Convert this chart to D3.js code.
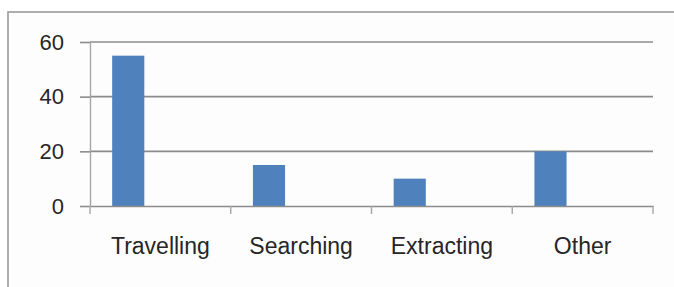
<!DOCTYPE html>
<html>
<head>
<meta charset="utf-8">
<script src="https://cdn.jsdelivr.net/npm/d3@7"></script>
<style>
	html, body { margin: 0; padding: 0; background: #fff; }
	svg { display: block; }
	text { font-family: "Liberation Sans", Arial, sans-serif; fill: #262626; }
</style>
</head>
<body>
<script>
// chart data
const categories = ['Travelling', 'Searching', 'Extracting', 'Other'];
const values = [55, 15, 10, 20];
const yTicks = [0, 20, 40, 60];

const width = 674, height = 287;
const margin = { top: 42, right: 21, bottom: 81, left: 90 };
const gridColor = '#8c8c8c';
const barColor = '#4f81bd';

const svg = d3.select('body').append('svg')
	.attr('width', width)
	.attr('height', height);

// chart area frame (right / bottom run off the picture)
svg.append('rect')
	.attr('x', 8).attr('y', 12)
	.attr('width', 700).attr('height', 320)
	.attr('fill', '#fdfdfd')
	.attr('stroke', '#9a9a9a')
	.attr('stroke-width', 1.6);

const x = d3.scaleBand()
	.domain(categories)
	.range([margin.left, width - margin.right]);

// bar sits in the first of three slots of each category
const slot = d3.scaleBand()
	.domain([0, 1, 2])
	.range([0, x.bandwidth()])
	.paddingOuter(0.69);

const y = d3.scaleLinear()
	.domain([0, d3.max(yTicks)])
	.range([height - margin.bottom, margin.top]);

// gridlines
svg.append('g')
	.selectAll('line')
	.data(yTicks.filter(d => d > 0))
	.join('line')
	.attr('x1', margin.left).attr('x2', width - margin.right)
	.attr('y1', d => y(d)).attr('y2', d => y(d))
	.attr('stroke', gridColor)
	.attr('stroke-width', 1.6);

// y axis
const yAxis = svg.append('g')
	.attr('transform', `translate(${margin.left},0)`)
	.call(d3.axisLeft(y).tickValues(yTicks).tickSize(10).tickSizeOuter(0).tickPadding(16));
yAxis.select('.domain').attr('stroke', '#a6a6a6').attr('stroke-width', 1.4);
yAxis.selectAll('.tick line').attr('stroke', gridColor).attr('stroke-width', 1.6);
yAxis.selectAll('.tick text').attr('font-size', 22).attr('fill', '#262626');

// bars
svg.append('g')
	.selectAll('rect')
	.data(values)
	.join('rect')
	.attr('x', (d, i) => x(categories[i]) + slot(0))
	.attr('width', slot.bandwidth())
	.attr('y', d => y(d))
	.attr('height', d => y(0) - y(d))
	.attr('fill', barColor);

// x axis: line, boundary ticks, centred labels
const xAxis = svg.append('g')
	.attr('transform', `translate(0,${y(0)})`)
	.call(d3.axisBottom(x).tickSize(0).tickSizeOuter(0));
xAxis.select('.domain').attr('stroke', gridColor).attr('stroke-width', 1.6);
xAxis.selectAll('.tick text')
	.attr('y', 48).attr('dy', 0)
	.attr('font-size', 23)
	.attr('fill', '#262626');

const bounds = categories.map(c => x(c)).concat(x.range()[1]);
xAxis.append('g')
	.selectAll('line')
	.data(bounds)
	.join('line')
	.attr('x1', d => d).attr('x2', d => d)
	.attr('y1', 0).attr('y2', 8)
	.attr('stroke', '#a6a6a6')
	.attr('stroke-width', 1.4);
</script>
</body>
</html>
